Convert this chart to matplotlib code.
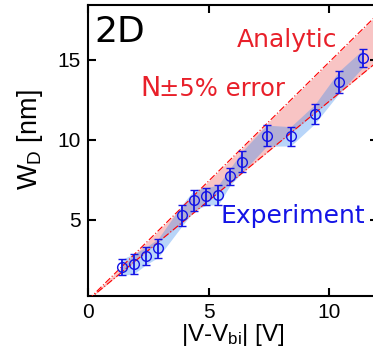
import numpy as np
import matplotlib
matplotlib.use('Agg')
import matplotlib.pyplot as plt

plt.rcParams['font.family'] = ['Liberation Sans', 'DejaVu Sans']
plt.rcParams['mathtext.fontset'] = 'custom'
plt.rcParams['mathtext.rm'] = 'Liberation Sans'
plt.rcParams['mathtext.it'] = 'Liberation Sans'

# measured depletion width
v = [1.4, 1.9, 2.4, 2.9, 3.9, 4.4, 4.9, 5.4, 5.9, 6.4, 7.4, 8.4, 9.4, 10.4, 11.4]
wd = [2.04, 2.25, 2.75, 3.23, 5.29, 6.23, 6.46, 6.56, 7.71, 8.63, 10.25, 10.21, 11.6, 13.58, 15.08]
err = [0.5, 0.62, 0.55, 0.58, 0.66, 0.65, 0.55, 0.61, 0.53, 0.66, 0.66, 0.6, 0.6, 0.69, 0.55]

# analytic model, N +/- 5 %
slope_hi = 1.485
slope_lo = 1.24
v_line = [0, 12]

red = '#e8202a'
blue = '#1414e6'

fig = plt.figure(figsize=(3.73, 3.55), dpi=100)
ax = fig.add_axes([88/373, 59/355, 289.6/373, 291/355])

v = np.array(v); wd = np.array(wd); err = np.array(err)
vl = np.array(v_line)

ax.fill_between(vl, slope_lo*vl, slope_hi*vl, color='#f8c4c4', lw=0, zorder=1)
ax.fill_between(v, wd-err, wd+err, color='#3a8cf0', alpha=0.36, lw=0, zorder=2)
ax.plot(vl, slope_hi*vl, color='red', lw=0.8, ls=(0, (6, 2, 1, 2)), zorder=3)
ax.plot(vl, slope_lo*vl, color='red', lw=0.8, ls=(0, (6, 2, 1, 2)), zorder=3)
ax.errorbar(v, wd, yerr=err, fmt='o', mfc='none', mec=blue, ecolor=blue,
            ms=7, mew=1.0, elinewidth=1.3, capsize=3, capthick=1.3, zorder=4)

ax.set_xlim(0, 12)
ax.set_ylim(0.25, 18.4)
ax.set_xticks([0, 5, 10])
ax.set_yticks([5, 10, 15])
ax.tick_params(direction='in', length=6, width=1.5, labelsize=15, pad=5,
               top=True, right=True)
for s in ax.spines.values():
    s.set_linewidth(1.5)

ax.set_xlabel(r'|V-V$_{\rm bi}$| [V]', fontsize=17.5)
ax.xaxis.set_label_coords(0.5, -0.088)
ax.set_ylabel(r'W$_{\rm D}$ [nm]', fontsize=19.5)
ax.yaxis.set_label_coords(-0.15, 0.536)

ax.text(0.25, 16.1, '2D', fontsize=26, color='black', family='DejaVu Sans')
ax.text(6.17, 15.8, 'Analytic', fontsize=18, color=red, family='DejaVu Sans')
ax.text(2.15, 12.75, 'N', fontsize=19.5, color=red, family='DejaVu Sans')
ax.text(2.95, 12.75, '±5% error', fontsize=17.5, color=red, family='DejaVu Sans')
ax.text(5.47, 4.78, 'Experiment', fontsize=18, color=blue, family='DejaVu Sans')

fig.savefig('out.png', dpi=100)
